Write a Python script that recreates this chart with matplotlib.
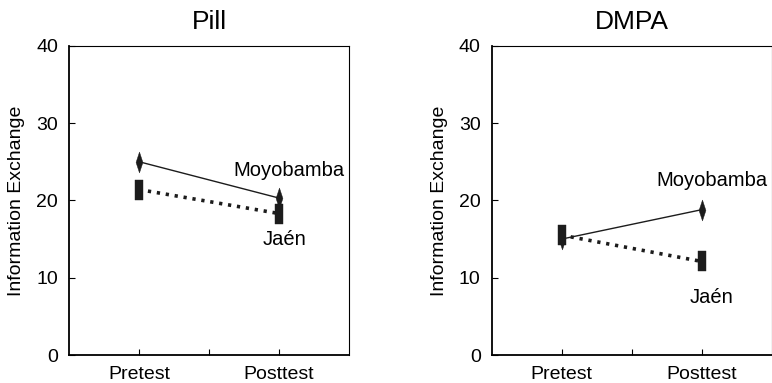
import numpy as np
import matplotlib
matplotlib.use('Agg')
import matplotlib.pyplot as plt
from matplotlib.path import Path

plt.rcParams['font.family'] = ['Liberation Sans', 'DejaVu Sans']

# data
times = ['Pretest', 'Posttest']
pill_moyobamba = [25.0, 20.3]
pill_jaen = [21.4, 18.3]
dmpa_moyobamba = [15.0, 18.8]
dmpa_jaen = [15.5, 12.1]

panels = [
    ('Pill', pill_moyobamba, pill_jaen, (2.07, 23.9), (2.04, 14.9)),
    ('DMPA', dmpa_moyobamba, dmpa_jaen, (2.07, 22.6), (2.07, 7.4)),
]

# tall thin markers
diamond = Path([(0, 1), (0.33, 0), (0, -1), (-0.33, 0), (0, 1)], closed=True)
rect = Path([(-0.36, -1), (0.36, -1), (0.36, 1), (-0.36, 1), (-0.36, -1)], closed=True)
ink = '#1c1c1c'

fig = plt.figure(figsize=(7.72, 3.83), dpi=100)
lefts = [0.0894, 0.637]

for left, (title, moy, jaen, moy_pos, jaen_pos) in zip(lefts, panels):
    ax = fig.add_axes([left, 0.073, 0.3627, 0.8076])
    x = np.arange(1, len(times) + 1)
    ax.plot(x, moy, color=ink, lw=1.0, marker=diamond, markersize=15,
            markerfacecolor=ink, markeredgecolor=ink, markeredgewidth=0.3, zorder=3)
    ax.plot(x, jaen, color=ink, lw=2.6, linestyle=(0, (0.9, 1.6)), marker=rect,
            markersize=14.5, markerfacecolor=ink, markeredgecolor=ink,
            markeredgewidth=0.3, zorder=4)
    ax.text(moy_pos[0], moy_pos[1], 'Moyobamba', ha='center', va='center', fontsize=14.5)
    ax.text(jaen_pos[0], jaen_pos[1], 'Jaén', ha='center', va='center', fontsize=14.5)

    ax.set_xlim(0.5, 2.5)
    ax.set_ylim(0, 40)
    ax.set_yticks([0, 10, 20, 30, 40])
    ax.set_xticks(x)
    ax.set_xticks([1.5], minor=True)
    ax.set_xticklabels(times)
    ax.tick_params(which='both', direction='in', length=4.5, width=0.8,
                   labelsize=14, pad=8)
    ax.set_ylabel('Information Exchange', fontsize=14, labelpad=8)
    ax.set_title(title, fontsize=19, pad=12)
    for s in ax.spines.values():
        s.set_linewidth(0.8)
    ax.spines['left'].set_linewidth(1.3)
    ax.spines['bottom'].set_linewidth(1.3)

fig.savefig('out.png', dpi=100)
